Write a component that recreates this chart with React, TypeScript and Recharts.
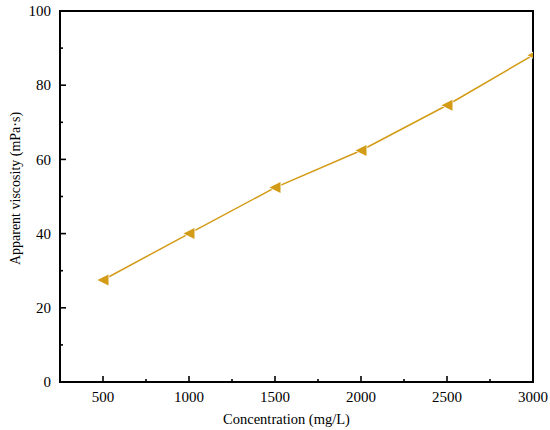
import { Line, LineChart, ReferenceArea, XAxis, YAxis } from "recharts";

const concentrations = [500, 1000, 1500, 2000, 2500, 3000];
const viscosity = [27.5, 40, 52.4, 62.4, 74.6, 88.1];

const xTicks = [250, 500, 750, 1000, 1250, 1500, 1750, 2000, 2250, 2500, 2750, 3000];
const xMajor = [500, 1000, 1500, 2000, 2500, 3000];
const yTicks = [0, 10, 20, 30, 40, 50, 60, 70, 80, 90, 100];
const yMajor = [0, 20, 40, 60, 80, 100];

const data = concentrations.map((c, i) => ({ c, v: viscosity[i] }));

const GOLD = "#D39B16";
const FONT = "Liberation Serif";
const X_MARGIN = 9;
const Y_MARGIN = 9;

function XTick(props: any) {
  const { x, y, payload } = props;
  const major = xMajor.includes(payload.value);
  const axisY = y - X_MARGIN;
  return (
    <g>
      <line x1={x} x2={x} y1={axisY} y2={axisY - (major ? 6 : 3)} stroke="#000" strokeWidth={1.6} />
      {major && (
        <text x={x} y={y} dy="0.75em" textAnchor="middle" style={{ fontSize: 15, fontFamily: FONT }} fill="#000">
          {payload.value}
        </text>
      )}
    </g>
  );
}

function YTick(props: any) {
  const { x, y, payload } = props;
  const major = yMajor.includes(payload.value);
  const axisX = x + Y_MARGIN;
  return (
    <g>
      <line x1={axisX} x2={axisX + (major ? 6 : 3)} y1={y} y2={y} stroke="#000" strokeWidth={1.6} />
      {major && (
        <text x={x} y={y} dy="0.35em" textAnchor="end" style={{ fontSize: 15, fontFamily: FONT }} fill="#000">
          {payload.value}
        </text>
      )}
    </g>
  );
}

function Triangle(props: any) {
  const { cx, cy, index } = props;
  if (cx == null || cy == null) return null;
  const s = 5.5;
  return (
    <polygon
      key={index}
      points={`${cx - s},${cy} ${cx + s},${cy - s} ${cx + s},${cy + s}`}
      fill={GOLD}
      stroke="#fff"
      strokeWidth={1.5}
      paintOrder="stroke"
    />
  );
}

export default function App() {
  return (
    <div style={{ position: "absolute", left: 0, top: 0, width: 550, height: 430, background: "#fff" }}>
      <LineChart width={550} height={430} data={data} margin={{ top: 11, right: 17, bottom: 0, left: 0 }}>
        <XAxis
          dataKey="c"
          type="number"
          domain={[250, 3000]}
          ticks={xTicks}
          allowDataOverflow
          interval={0}
          tickLine={false}
          tickSize={0}
          tickMargin={X_MARGIN}
          tick={<XTick />}
          height={48}
          axisLine={{ stroke: "#000", strokeWidth: 2 }}
          label={{
            value: "Concentration (mg/L)",
            position: "insideBottom",
            offset: 6,
            dx: -10,
            style: { fontSize: 14.5, fontFamily: FONT, fill: "#000" },
          }}
        />
        <YAxis
          type="number"
          domain={[0, 100]}
          ticks={yTicks}
          interval={0}
          tickLine={false}
          tickSize={0}
          tickMargin={Y_MARGIN}
          tick={<YTick />}
          width={60}
          axisLine={{ stroke: "#000", strokeWidth: 2 }}
          label={{
            value: "Apparent viscosity (mPa·s)",
            angle: -90,
            position: "insideLeft",
            offset: 15,
            dy: -8,
            style: { textAnchor: "middle", fontSize: 14, fontFamily: FONT, fill: "#000" },
          }}
        />
        <ReferenceArea x1={250} x2={3000} y1={0} y2={100} fill="none" stroke="#000" strokeWidth={2} />
        <Line
          dataKey="v"
          stroke={GOLD}
          strokeWidth={1.5}
          dot={<Triangle />}
          activeDot={false}
          isAnimationActive={false}
        />
      </LineChart>
    </div>
  );
}
